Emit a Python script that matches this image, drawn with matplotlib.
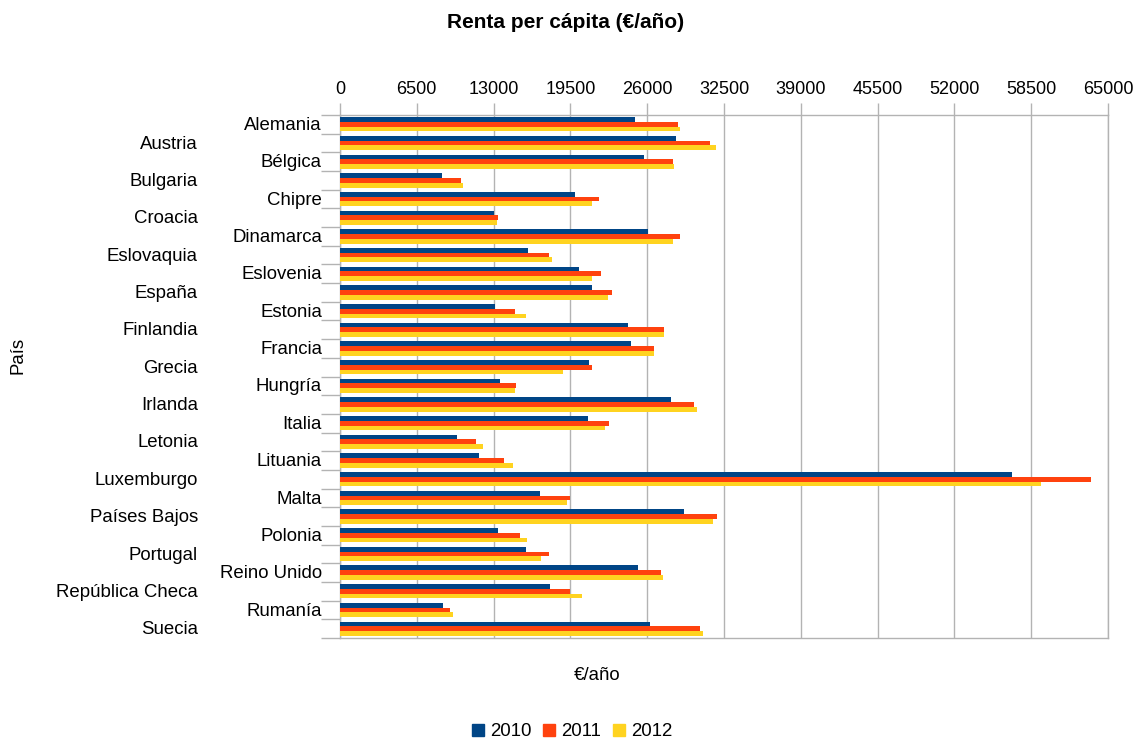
import matplotlib
matplotlib.use('Agg')
import matplotlib.pyplot as plt
import matplotlib.transforms as mtransforms
from matplotlib.patches import Patch
import numpy as np

plt.rcParams['font.family'] = ['Liberation Sans', 'DejaVu Sans']

countries = ['Alemania', 'Austria', 'Bélgica', 'Bulgaria', 'Chipre', 'Croacia',
             'Dinamarca', 'Eslovaquia', 'Eslovenia', 'España', 'Estonia',
             'Finlandia', 'Francia', 'Grecia', 'Hungría', 'Irlanda', 'Italia',
             'Letonia', 'Lituania', 'Luxemburgo', 'Malta', 'Países Bajos',
             'Polonia', 'Portugal', 'Reino Unido', 'República Checa',
             'Rumanía', 'Suecia']
years = ['2010', '2011', '2012']
renta_2010 = [25000, 28400, 25700, 8650, 19900, 13050, 26100, 15950, 20200,
              21300, 13150, 24400, 24600, 21100, 13500, 28000, 21000, 9900,
              11800, 56900, 16950, 29150, 13400, 15750, 25200, 17800, 8750,
              26200]
renta_2011 = [28600, 31300, 28150, 10250, 21900, 13400, 28750, 17700, 22050,
              23050, 14850, 27400, 26600, 21300, 14900, 30000, 22800, 11550,
              13900, 63600, 19500, 31900, 15200, 17650, 27200, 19500, 9350,
              30450]
renta_2012 = [28800, 31800, 28300, 10450, 21350, 13300, 28150, 17950, 21350,
              22650, 15700, 27400, 26550, 18900, 14850, 30200, 22450, 12100,
              14600, 59300, 19250, 31550, 15850, 17050, 27300, 20450, 9600,
              30700]
colors = ['#004586', '#ff420e', '#ffd320']
grid_col = '#b3b3b3'

fig = plt.figure(figsize=(11.37, 7.43), dpi=100)
ax = fig.add_axes([340/1137, 1-638/743, 768/1137, 523/743])

y = np.arange(len(countries))
h = 0.255
for k, vals in enumerate([renta_2010, renta_2011, renta_2012]):
    ax.barh(y + (k - 1) * h, vals, height=h, color=colors[k], zorder=3)

ax.set_xlim(0, 65000)
ax.set_ylim(len(countries) - 0.5, -0.5)
ax.set_xticks(np.arange(0, 65001, 6500))
ax.xaxis.tick_top()
ax.tick_params(axis='x', direction='out', length=9, width=1, color=grid_col,
               labelsize=13, pad=3)
ax.grid(axis='x', color=grid_col, linewidth=1, zorder=0)
for s in ax.spines.values():
    s.set_color(grid_col)
    s.set_linewidth(1)

# category boundaries as outward ticks, labels staggered
ax.set_yticks(np.arange(-0.5, len(countries)), minor=False)
ax.set_yticklabels([])
ax.tick_params(axis='y', direction='out', length=14, width=1, color=grid_col)
trans = mtransforms.blended_transform_factory(ax.transAxes, ax.transData)
for i, name in enumerate(countries):
    xpos = -18/768 if i % 2 == 0 else -142/768
    ax.text(xpos, i + 0.06, name, transform=trans, ha='right', va='center',
            fontsize=13.4)

fig.text(566/1137, 1-22/743, 'Renta per cápita (€/año)', ha='center',
         va='center', fontsize=15, fontweight='bold')
fig.text(597/1137, 1-675/743, '€/año', ha='center', va='center', fontsize=13.4)
fig.text(18/1137, 1-355/743, 'País', ha='center', va='center', fontsize=13.4,
         rotation=90)

handles = [Patch(color=c) for c in colors]
fig.legend(handles, years, loc='center', bbox_to_anchor=(572/1137, 1-732/743),
           ncol=3, frameon=False, fontsize=13.4, handlelength=0.65,
           handleheight=0.65, handletextpad=0.3, columnspacing=0.65)

fig.savefig('out.png', dpi=100)
